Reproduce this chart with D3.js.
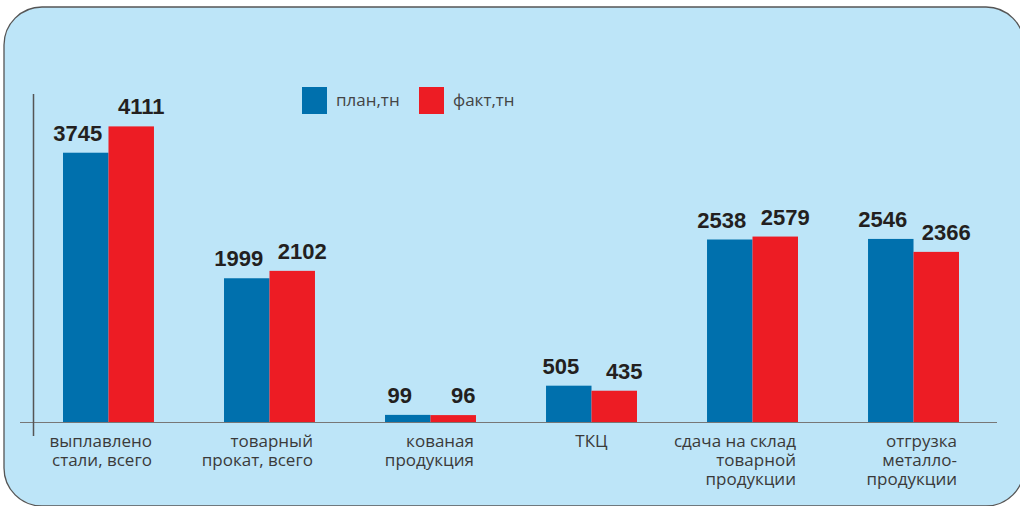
<!DOCTYPE html>
<html>
<head>
<meta charset="utf-8">
<script src="https://cdn.jsdelivr.net/npm/d3@7"></script>
<style>
  body { margin: 0; background: #fff; }
  svg { display: block; }
</style>
</head>
<body>
<div id="vis"></div>
<script>
const width = 1020;
const height = 506;

// categories (lines of each label) and the two series
const categories = [
  ["выплавлено", "стали, всего"],
  ["товарный", "прокат, всего"],
  ["кованая", "продукция"],
  ["ТКЦ"],
  ["сдача на склад", "товарной", "продукции"],
  ["отгрузка", "металло-", "продукции"]
];
const plan = [3745, 1999, 99, 505, 2538, 2546];
const fact = [4111, 2102, 96, 435, 2579, 2366];
const seriesNames = ["план,тн", "факт,тн"];
const colors = ["#0070ad", "#ed1c24"];

const baseY = 422;

const svg = d3.select("#vis").append("svg")
  .attr("width", width)
  .attr("height", height);

// panel
svg.append("rect")
  .attr("x", 4).attr("y", 7)
  .attr("width", 1020).attr("height", 499)
  .attr("rx", 38).attr("ry", 38)
  .attr("fill", "#bde5f8")
  .attr("stroke", "#555")
  .attr("stroke-width", 1.3);

const ids = d3.range(categories.length);

const x0 = d3.scaleBand()
  .domain(ids)
  .range([28, 994])
  .paddingInner(0.435)
  .paddingOuter(0.2174);

const x1 = d3.scaleBand()
  .domain([0, 1])
  .range([0, x0.bandwidth()]);

const y = d3.scaleLinear()
  .domain([0, 4200])
  .range([baseY, baseY - 302]);

// axes lines
svg.append("line")
  .attr("x1", 20).attr("x2", 997)
  .attr("y1", baseY + 0.5).attr("y2", baseY + 0.5)
  .attr("stroke", "#777").attr("stroke-width", 1.2);

svg.append("line")
  .attr("x1", 33.5).attr("x2", 33.5)
  .attr("y1", 94).attr("y2", 436)
  .attr("stroke", "#555").attr("stroke-width", 1.5);

const rows = ids.map(i => ({ i: i, vals: [plan[i], fact[i]] }));

const groups = svg.selectAll(".grp").data(rows).enter().append("g")
  .attr("class", "grp")
  .attr("transform", d => "translate(" + x0(d.i) + ",0)");

groups.selectAll("rect").data(d => d.vals.map((v, k) => ({ v: v, k: k })))
  .enter().append("rect")
  .attr("x", d => x1(d.k))
  .attr("width", x1.bandwidth())
  .attr("y", d => y(d.v))
  .attr("height", d => y(0) - y(d.v))
  .attr("fill", d => colors[d.k]);

// value labels, pushed apart a little like the original
groups.selectAll(".val").data(d => d.vals.map((v, k) => ({ v: v, k: k })))
  .enter().append("text")
  .attr("class", "val")
  .attr("x", d => x1(d.k) + x1.bandwidth() / 2 + (d.k === 0 ? -8 : 10))
  .attr("y", d => y(d.v) - 12)
  .attr("text-anchor", "middle")
  .style("font-family", "'Liberation Sans', Arial, sans-serif")
  .style("font-weight", "bold")
  .style("font-size", "22px")
  .style("fill", "#231f20")
  .text(d => d.v);

// category labels: multi-line ones right aligned, single line centered
groups.each(function (d) {
  const lines = categories[d.i];
  const single = lines.length === 1;
  const t = d3.select(this).append("text")
    .attr("text-anchor", single ? "middle" : "end")
    .style("font-family", "'Open Sans', sans-serif")
    .style("font-size", "17px")
    .style("fill", "#3a3a3a");
  lines.forEach((s, j) => {
    t.append("tspan")
      .attr("x", single ? x0.bandwidth() / 2 : x0.bandwidth() - 2)
      .attr("y", 447 + j * 19)
      .text(s);
  });
});

// legend
const legend = svg.append("g").attr("transform", "translate(302,87)");
const li = legend.selectAll("g").data(seriesNames).enter().append("g")
  .attr("transform", (d, k) => "translate(" + (k * 117) + ",0)");
li.append("rect")
  .attr("width", 25).attr("height", 27)
  .attr("fill", (d, k) => colors[k]);
li.append("text")
  .attr("x", 34).attr("y", 19)
  .style("font-family", "'Open Sans', sans-serif")
  .style("font-size", "17px")
  .style("fill", "#444")
  .text(d => d);
</script>
</body>
</html>
